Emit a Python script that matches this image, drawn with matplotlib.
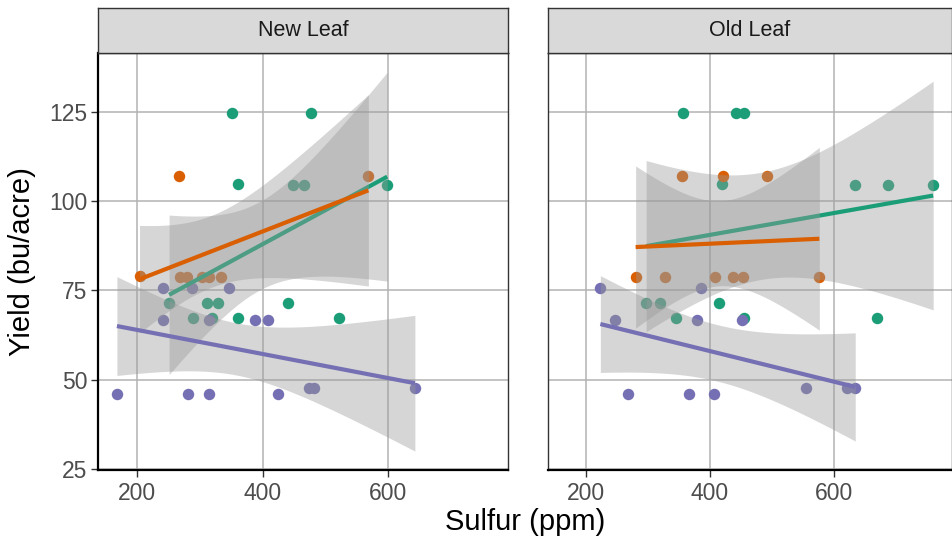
import numpy as np
import matplotlib

matplotlib.use("Agg")
import matplotlib.pyplot as plt


# values
PANELS = ["New Leaf", "Old Leaf"]
COLORS = ["#1B9E77", "#D95F02", "#7570B3"]

new_a_sulfur = [351, 476, 360, 448, 465, 598, 251, 311, 328, 440, 289, 319, 360, 521]
new_a_yield = [124.8, 124.8, 104.9, 104.5, 104.5, 104.5, 71.6, 71.6, 71.6, 71.6, 67.4, 67.4, 67.4, 67.4]
new_b_sulfur = [267, 568, 204, 269, 279, 304, 314, 334]
new_b_yield = [107.1, 107.1, 79.0, 78.8, 78.8, 78.8, 78.8, 78.8]
new_c_sulfur = [242, 287, 347, 242, 315, 387, 409, 168, 281, 315, 425, 473, 482, 642]
new_c_yield = [75.6, 75.6, 75.6, 66.6, 66.6, 66.6, 66.6, 46.0, 46.0, 46.0, 46.0, 47.8, 47.8, 47.8]

old_a_sulfur = [357, 442, 456, 420, 634, 688, 761, 297, 320, 415, 346, 455, 671]
old_a_yield = [124.8, 124.8, 124.8, 104.9, 104.5, 104.5, 104.5, 71.6, 71.6, 71.6, 67.4, 67.4, 67.4]
old_b_sulfur = [355, 421, 492, 280, 327, 408, 437, 454, 577]
old_b_yield = [107.1, 107.1, 107.1, 78.8, 78.8, 78.8, 78.8, 78.8, 78.8]
old_c_sulfur = [223, 385, 246, 379, 452, 268, 367, 407, 555, 622, 635]
old_c_yield = [75.6, 75.6, 66.6, 66.6, 66.6, 46.0, 46.0, 46.0, 47.8, 47.8, 47.8]

X_TICKS = [200, 400, 600]
Y_TICKS = [25, 50, 75, 100, 125]

# two-sided 95% t quantiles by degrees of freedom
T975 = {5: 2.571, 6: 2.447, 7: 2.365, 8: 2.306, 9: 2.262, 10: 2.228,
        11: 2.201, 12: 2.179, 13: 2.160, 14: 2.145, 15: 2.131}

plt.rcParams["font.family"] = ["Liberation Sans", "DejaVu Sans"]


def lm_smooth(x, y, n_points=80):
    x = np.asarray(x, float)
    y = np.asarray(y, float)
    slope, intercept = np.polyfit(x, y, 1)
    grid = np.linspace(x.min(), x.max(), n_points)
    fit = intercept + slope * grid
    resid = y - (intercept + slope * x)
    dof = len(x) - 2
    sigma = np.sqrt((resid ** 2).sum() / dof)
    sxx = ((x - x.mean()) ** 2).sum()
    se = sigma * np.sqrt(1 / len(x) + (grid - x.mean()) ** 2 / sxx)
    half = T975[dof] * se
    return grid, fit, fit - half, fit + half


panel_groups = [
    [(new_a_sulfur, new_a_yield), (new_b_sulfur, new_b_yield), (new_c_sulfur, new_c_yield)],
    [(old_a_sulfur, old_a_yield), (old_b_sulfur, old_b_yield), (old_c_sulfur, old_c_yield)],
]

smooths = [[lm_smooth(x, y) for x, y in groups] for groups in panel_groups]

# ggplot-style limits: data and ribbons plus 5% expansion
all_x = np.concatenate([np.asarray(x, float) for groups in panel_groups for x, _ in groups])
all_y = np.concatenate(
    [np.asarray(y, float) for groups in panel_groups for _, y in groups]
    + [np.concatenate([lo, hi]) for panel in smooths for _, _, lo, hi in panel]
)
x_pad = 0.05 * (all_x.max() - all_x.min())
y_pad = 0.05 * (all_y.max() - all_y.min())
x_lim = (all_x.min() - x_pad, all_x.max() + x_pad)
y_lim = (all_y.min() - y_pad, all_y.max() + y_pad)

W, H = 953, 544
figure = plt.figure(figsize=(W / 100, H / 100), dpi=100)

panel_boxes = [(98.3, 508.3), (548.0, 951.5)]
top_px, bottom_px, strip_top_px = 53.3, 470.0, 7.8

for index, (name, (left_px, right_px)) in enumerate(zip(PANELS, panel_boxes)):
    axis = figure.add_axes([
        left_px / W,
        1 - bottom_px / H,
        (right_px - left_px) / W,
        (bottom_px - top_px) / H,
    ])
    axis.set_xlim(*x_lim)
    axis.set_ylim(*y_lim)
    axis.set_xticks(X_TICKS)
    axis.set_yticks(Y_TICKS)
    axis.grid(True, color="#B3B3B3", linewidth=1.1)
    axis.set_axisbelow(True)

    for (x, y), color in zip(panel_groups[index], COLORS):
        axis.scatter(x, y, s=68, color=color, linewidths=0, zorder=2)

    for (grid, fit, low, high), color in zip(smooths[index], COLORS):
        axis.fill_between(grid, low, high, color="#999999", alpha=0.4, linewidth=0, zorder=3)
        axis.plot(grid, fit, color=color, linewidth=3.0, solid_capstyle="butt", zorder=3)

    for side in ("top", "right"):
        axis.spines[side].set_color("#333333")
        axis.spines[side].set_linewidth(1.0)
    axis.spines["bottom"].set_color("black")
    axis.spines["bottom"].set_linewidth(1.6)
    if index == 0:
        axis.spines["left"].set_color("black")
        axis.spines["left"].set_linewidth(1.6)
    else:
        axis.spines["left"].set_color("#333333")
        axis.spines["left"].set_linewidth(1.0)

    axis.tick_params(axis="both", length=5, width=1.0, color="#333333",
                     labelsize=16.5, labelcolor="#4D4D4D")
    axis.tick_params(axis="x", pad=4)
    axis.tick_params(axis="y", pad=3)
    if index == 1:
        axis.tick_params(axis="y", left=False, labelleft=False)

    strip = figure.add_axes([
        left_px / W,
        1 - top_px / H,
        (right_px - left_px) / W,
        (top_px - strip_top_px) / H,
    ])
    strip.set_facecolor("#D9D9D9")
    strip.set_xticks([])
    strip.set_yticks([])
    for spine in strip.spines.values():
        spine.set_color("#333333")
        spine.set_linewidth(1.0)
    strip.text(0.5, 0.5, name, ha="center", va="center", fontsize=15.5,
               color="#1A1A1A", transform=strip.transAxes)

figure.text((panel_boxes[0][0] + panel_boxes[1][1]) / 2 / W, 1 - 522 / H, "Sulfur (ppm)",
            ha="center", va="center", fontsize=21)
figure.text(22 / W, 1 - (top_px + bottom_px) / 2 / H, "Yield (bu/acre)",
            ha="center", va="center", rotation=90, fontsize=21)

figure.savefig("out.png", dpi=100)
